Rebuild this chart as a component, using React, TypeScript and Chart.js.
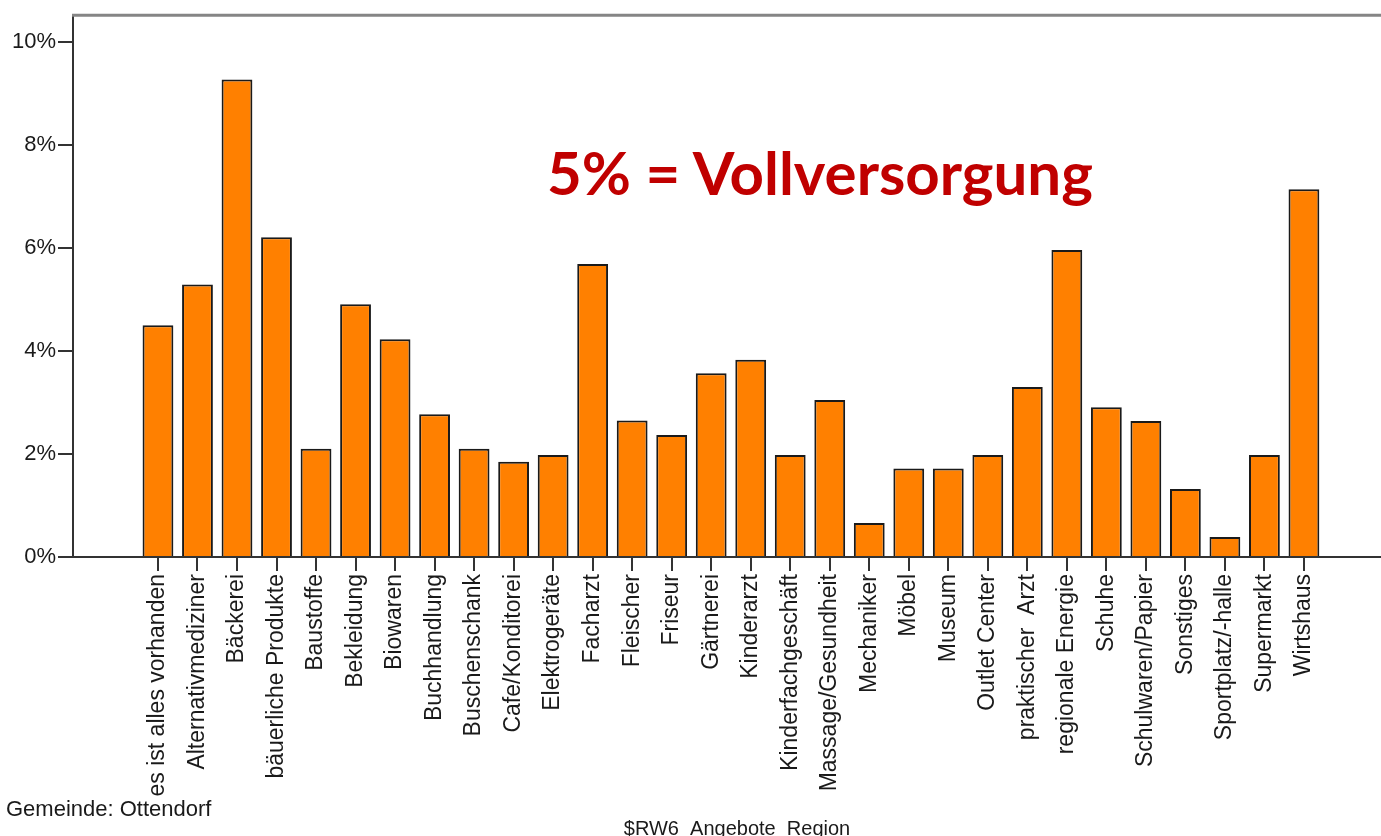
import React, { useEffect, useRef } from "react";
import { Chart, registerables } from "chart.js";

Chart.register(...registerables);

const categories = [
  "es ist alles vorhanden",
  "Alternativmediziner",
  "Bäckerei",
  "bäuerliche Produkte",
  "Baustoffe",
  "Bekleidung",
  "Biowaren",
  "Buchhandlung",
  "Buschenschank",
  "Cafe/Konditorei",
  "Elektrogeräte",
  "Facharzt",
  "Fleischer",
  "Friseur",
  "Gärtnerei",
  "Kinderarzt",
  "Kinderfachgeschäft",
  "Massage/Gesundheit",
  "Mechaniker",
  "Möbel",
  "Museum",
  "Outlet Center",
  "praktischer  Arzt",
  "regionale Energie",
  "Schuhe",
  "Schulwaren/Papier",
  "Sonstiges",
  "Sportplatz/-halle",
  "Supermarkt",
  "Wirtshaus",
];

const percentValues = [
  4.5, 5.29, 9.27, 6.21, 2.1, 4.91, 4.23, 2.77, 2.1, 1.85,
  1.98, 5.69, 2.65, 2.37, 3.57, 3.83, 1.98, 3.05, 0.66, 1.72,
  1.72, 1.98, 3.3, 5.96, 2.91, 2.64, 1.32, 0.39, 1.98, 7.14,
];

const yTickValues = [0, 2, 4, 6, 8, 10];

const titleText = "5% = Vollversorgung";
const footnoteText = "Gemeinde: Ottendorf";
const axisTitleText = "$RW6_Angebote_Region";

export default function App() {
  const canvasRef = useRef<HTMLCanvasElement>(null);

  useEffect(() => {
    if (!canvasRef.current) return;
    const topFrame = {
      id: "topFrame",
      afterDraw(chart: any) {
        const { ctx, chartArea } = chart;
        ctx.save();
        ctx.strokeStyle = "#858585";
        ctx.lineWidth = 3;
        ctx.beginPath();
        ctx.moveTo(chartArea.left - 1, chartArea.top);
        ctx.lineTo(chart.width, chartArea.top);
        ctx.stroke();
        ctx.restore();
      },
    };

    const chart = new Chart(canvasRef.current, {
      type: "bar",
      data: {
        datasets: [
          {
            data: percentValues.map((v, i) => ({ x: i, y: v })),
            backgroundColor: "#FF8000",
            borderColor: "#1a1a1a",
            borderWidth: 2,
            barPercentage: 0.78,
            categoryPercentage: 1,
          },
        ],
      },
      options: {
        animation: false,
        responsive: false,
        maintainAspectRatio: false,
        layout: { padding: { top: 13, left: 0, right: 0, bottom: 0 } },
        plugins: {
          legend: { display: false },
          tooltip: { enabled: false },
        },
        scales: {
          x: {
            type: "linear",
            min: -2.15,
            max: 30.95,
            offset: false,
            afterBuildTicks: (s: any) => {
              s.ticks = categories.map((_, i) => ({ value: i }));
            },
            afterFit: (s: any) => {
              s.height = 279;
            },
            grid: {
              display: true,
              drawOnChartArea: false,
              drawTicks: true,
              tickLength: 14,
              color: "#333",
              lineWidth: 2,
              offset: false,
            },
            border: { display: true, color: "#333", width: 2 },
            ticks: {
              autoSkip: false,
              maxRotation: 90,
              minRotation: 90,
              padding: 3,
              color: "#1a1a1a",
              font: { family: "Liberation Sans", size: 23 },
              callback: (v: any) => categories[v] ?? "",
            },
          },
          y: {
            min: 0,
            max: 10.52,
            afterBuildTicks: (s: any) => {
              s.ticks = yTickValues.map((v) => ({ value: v }));
            },
            afterFit: (s: any) => {
              s.width = 73;
            },
            grid: {
              display: true,
              drawOnChartArea: false,
              drawTicks: true,
              tickLength: 15,
              color: "#333",
              lineWidth: 2,
            },
            border: { display: true, color: "#333", width: 2 },
            ticks: {
              padding: 2,
              color: "#1a1a1a",
              font: { family: "Liberation Sans", size: 22 },
              callback: (v: any) => v + "%",
            },
          },
        },
      },
      plugins: [topFrame],
    } as any);

    return () => chart.destroy();
  }, []);

  return (
    <div
      style={{
        position: "fixed",
        left: 0,
        top: 0,
        width: 1381,
        height: 836,
        overflow: "hidden",
        background: "#fff",
      }}
    >
      <canvas
        ref={canvasRef}
        width={1381}
        height={836}
        style={{ position: "absolute", left: 0, top: 0, width: 1381, height: 836 }}
      />
      <div
        style={{
          position: "absolute",
          left: 547,
          top: 142,
          font: "bold 60px Lato",
          lineHeight: 1,
          color: "#C00000",
          whiteSpace: "nowrap",
        }}
      >
        {titleText}
      </div>
      <div
        style={{
          position: "absolute",
          left: 6,
          top: 798,
          font: "22px 'Liberation Sans'",
          lineHeight: 1,
          color: "#1a1a1a",
          whiteSpace: "nowrap",
        }}
      >
        {footnoteText}
      </div>
      <div
        style={{
          position: "absolute",
          left: 737,
          top: 818,
          transform: "translateX(-50%)",
          font: "20px 'Liberation Sans'",
          lineHeight: 1,
          color: "#1a1a1a",
          whiteSpace: "nowrap",
        }}
      >
        {axisTitleText}
      </div>
    </div>
  );
}
